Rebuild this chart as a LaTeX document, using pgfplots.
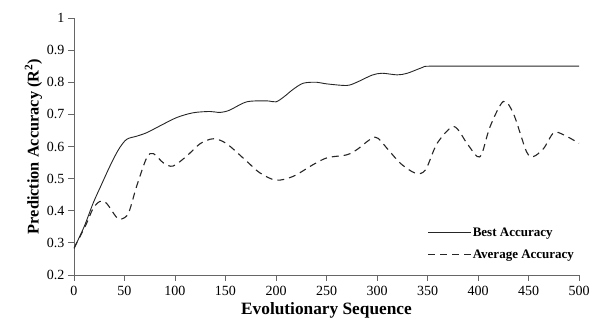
\documentclass[border=0pt]{standalone}
\usepackage{pgfplots}
\pgfplotsset{compat=1.18}
\usepackage{fontspec}
\setmainfont{Liberation Serif}
\begin{document}
\begin{tikzpicture}
\begin{axis}[
  name=ax,
  at={(0,0)}, anchor=south west,
  scale only axis,
  width=505pt, height=257pt,
  xmin=0, xmax=500, ymin=0.2, ymax=1,
  axis x line*=bottom, axis y line*=left,
  axis line style={draw=black!60, line width=0.8pt, -},
  xtick={0,50,...,500},
  ytick={0.2,0.3,0.4,0.5,0.6,0.7,0.8,0.9,1},
  yticklabels={0.2,0.3,0.4,0.5,0.6,0.7,0.8,0.9,1},
  tick align=outside,
  major tick length=6pt,
  tick style={draw=black!60, line width=0.8pt},
  ticklabel style={font=\fontsize{14}{16}\selectfont},
  xticklabel style={yshift=-2pt},
  /pgf/number format/assume math mode=true,
  xlabel={\textbf{Evolutionary Sequence}},
  ylabel={\textbf{Prediction Accuracy (R\textsuperscript{2})}},
  xlabel style={font=\fontsize{17.3}{19}\selectfont, at={(axis description cs:0.5,0)}, anchor=center, yshift=-35pt},
  ylabel style={font=\fontsize{16.3}{18}\selectfont, yshift=-2pt},
  legend style={at={(0.70,0.055)}, anchor=south west, draw=none, fill=none,
    font=\fontsize{13}{15}\selectfont\bfseries, row sep=10pt,
    inner sep=0pt, nodes={inner sep=1pt}},
  legend cell align=left,
  legend image code/.code={\draw[#1] (0pt,0pt) -- (43pt,0pt);},
]
\addplot[smooth, tension=0.5, draw=black!85, line width=0.9pt] coordinates {
(0,0.283) (10,0.35) (19,0.424) (27,0.48) (35.6,0.539) (44,0.59) (52,0.622) (62,0.632) (72,0.643)
(85,0.664) (101.6,0.69) (118,0.705) (134.6,0.709) (144.6,0.706) (154,0.713)
(171,0.739) (191,0.742) (200,0.739) (208,0.755) (217,0.778) (227,0.797) (240,0.80)
(250,0.795) (270,0.79) (280,0.80) (295,0.822) (305,0.828) (320,0.823) (330,0.828)
(345,0.846) (352,0.85) (400,0.85) (450,0.85) (500,0.85)
};
\addlegendentry{Best Accuracy}
\addplot[smooth, tension=0.5, draw=black!85, line width=1.1pt, dash pattern=on 7pt off 5pt] coordinates {
(0,0.283) (12.5,0.361) (19,0.408) (25.7,0.429) (32,0.424) (42,0.38) (47,0.374) (54,0.393)
(62,0.476) (72,0.565) (78.5,0.578) (88.5,0.549) (98,0.539) (111.5,0.57) (125,0.609)
(138,0.624) (151,0.609) (171,0.554) (184,0.518) (200,0.495) (217,0.507) (237,0.544)
(250.8,0.565) (270,0.574) (280,0.59) (298,0.629) (310,0.594) (323,0.548) (338,0.517)
(348,0.527) (359.6,0.61) (376,0.662) (389,0.61) (399,0.569) (404,0.579) (412,0.662)
(425,0.74) (435,0.703) (448,0.584) (455,0.569) (465,0.594) (475,0.643) (485,0.636) (500,0.61)
};
\addlegendentry{Average Accuracy}
\end{axis}
\pgfresetboundingbox
\path[use as bounding box] ([shift={(-74pt,-47pt)}]ax.south west) rectangle ([shift={(13pt,18pt)}]ax.north east);
\end{tikzpicture}
\end{document}
